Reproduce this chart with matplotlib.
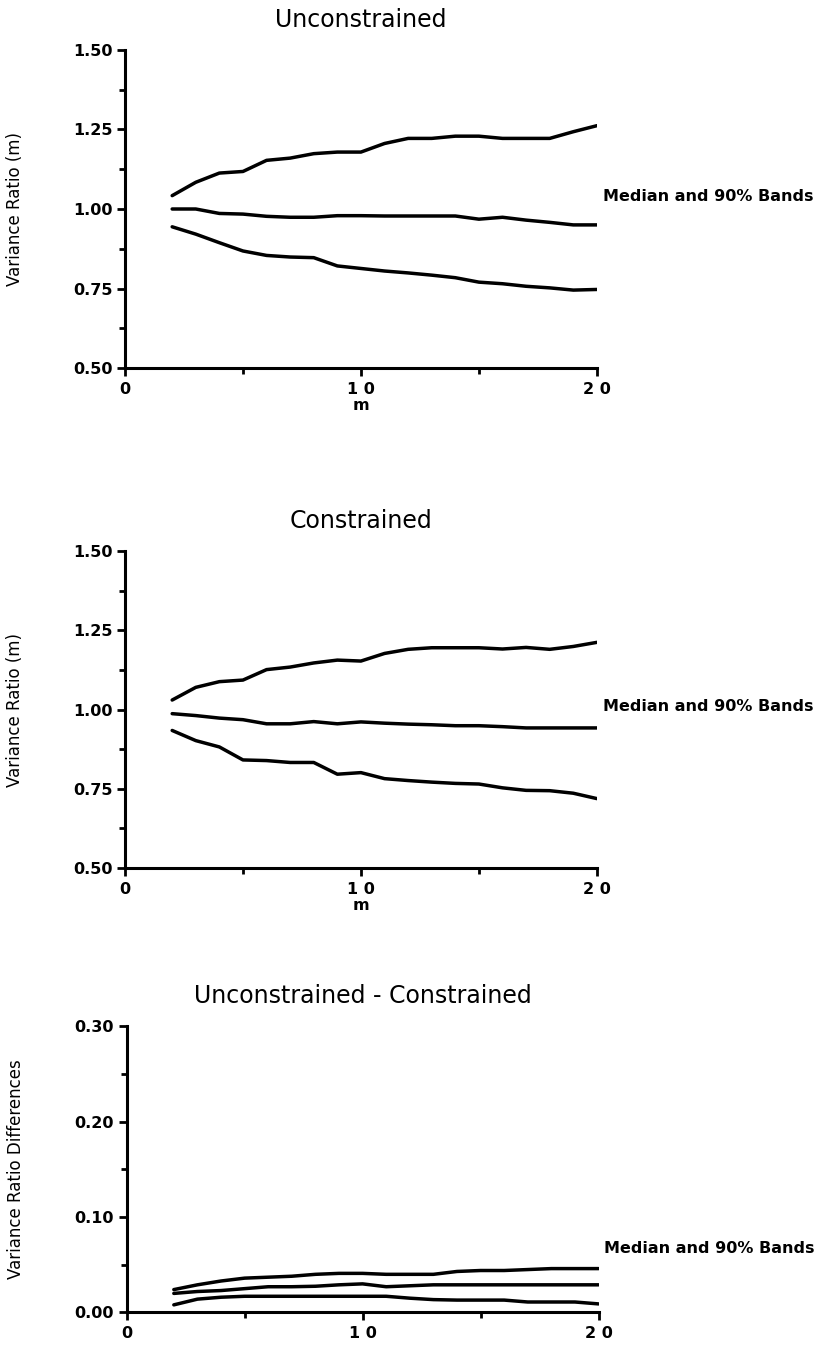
import matplotlib
matplotlib.use("Agg")
import matplotlib.pyplot as plt
from matplotlib.ticker import MultipleLocator

plt.rcParams.update({"font.family": ["DejaVu Sans"]})

m = list(range(2, 21))

# Unconstrained: upper 90% band, median, lower 90% band
unc_upper = [1.042, 1.084, 1.113, 1.118, 1.153, 1.160, 1.174, 1.179, 1.179, 1.206,
             1.222, 1.222, 1.229, 1.229, 1.222, 1.222, 1.222, 1.243, 1.262]
unc_median = [1.000, 1.000, 0.986, 0.984, 0.977, 0.974, 0.974, 0.979, 0.979, 0.978,
              0.978, 0.978, 0.978, 0.968, 0.974, 0.965, 0.958, 0.950, 0.950]
unc_lower = [0.944, 0.921, 0.894, 0.868, 0.854, 0.849, 0.847, 0.821, 0.813, 0.805,
             0.799, 0.792, 0.784, 0.770, 0.765, 0.757, 0.752, 0.745, 0.747]

# Constrained
con_upper = [1.030, 1.070, 1.088, 1.093, 1.126, 1.134, 1.147, 1.156, 1.153, 1.177,
             1.190, 1.195, 1.195, 1.195, 1.191, 1.196, 1.190, 1.199, 1.212]
con_median = [0.987, 0.981, 0.973, 0.968, 0.955, 0.955, 0.962, 0.955, 0.961, 0.957,
              0.954, 0.952, 0.949, 0.949, 0.946, 0.942, 0.942, 0.942, 0.942]
con_lower = [0.934, 0.902, 0.882, 0.841, 0.839, 0.833, 0.833, 0.796, 0.801, 0.782,
             0.776, 0.771, 0.767, 0.765, 0.753, 0.745, 0.744, 0.736, 0.719]

# Unconstrained - Constrained
dif_upper = [0.024, 0.029, 0.033, 0.036, 0.037, 0.038, 0.040, 0.041, 0.041, 0.040,
             0.040, 0.040, 0.043, 0.044, 0.044, 0.045, 0.046, 0.046, 0.046]
dif_median = [0.020, 0.022, 0.023, 0.025, 0.027, 0.027, 0.0275, 0.029, 0.030, 0.027,
              0.028, 0.029, 0.029, 0.029, 0.029, 0.029, 0.029, 0.029, 0.029]
dif_lower = [0.008, 0.014, 0.016, 0.017, 0.017, 0.017, 0.017, 0.017, 0.017, 0.017,
             0.015, 0.0135, 0.013, 0.013, 0.013, 0.011, 0.011, 0.011, 0.009]

x_ticks = [0, 10, 20]
x_ticklabels = ["0", "1 0", "2 0"]


def style_axes(ax, ylim, ystep):
    for side in ("top", "right"):
        ax.spines[side].set_visible(False)
    for side in ("left", "bottom"):
        ax.spines[side].set_linewidth(2.2)
    ax.set_xlim(0, 20)
    ax.set_ylim(*ylim)
    ax.set_xticks(x_ticks)
    ax.set_xticklabels(x_ticklabels, fontsize=11.5, fontweight="bold")
    ax.xaxis.set_minor_locator(MultipleLocator(5))
    ax.yaxis.set_major_locator(MultipleLocator(ystep))
    ax.yaxis.set_minor_locator(MultipleLocator(ystep / 2))
    ticks = [v for v in ax.get_yticks() if ylim[0] - 1e-9 <= v <= ylim[1] + 1e-9]
    ax.set_yticks(ticks)
    ax.set_yticklabels(["{:.2f}".format(v) for v in ticks], fontsize=11.5, fontweight="bold")
    ax.tick_params(which="major", direction="out", length=6, width=2)
    ax.tick_params(which="minor", direction="out", length=4, width=2)
    ax.tick_params(axis="x", pad=4)
    ax.tick_params(axis="y", pad=3)


def draw_panel(rect, title, upper, median, lower, ylim, ystep, ylabel, label_y, xlabel):
    ax = fig.add_axes(rect)
    for series in (upper, median, lower):
        ax.plot(m, series, color="black", lw=2.5, solid_capstyle="round")
    style_axes(ax, ylim, ystep)
    ax.set_title(title, fontsize=17, pad=16.5)
    ax.set_ylabel(ylabel, fontsize=12)
    ax.yaxis.set_label_coords(-0.215, 0.5)
    if xlabel:
        ax.set_xlabel(xlabel, fontsize=11.5, fontweight="bold", labelpad=1)
    ax.text(1.012, label_y, "Median and 90% Bands", transform=ax.get_yaxis_transform(),
            fontsize=11.5, fontweight="bold", ha="left", va="baseline", clip_on=False)
    return ax


fig = plt.figure(figsize=(8.25, 13.51), dpi=100)

draw_panel([0.1515, 0.7276, 0.572, 0.2354], "Unconstrained",
           unc_upper, unc_median, unc_lower, (0.5, 1.5), 0.25,
           "Variance Ratio (m)", 1.025, "m")
draw_panel([0.1515, 0.3575, 0.572, 0.2346], "Constrained",
           con_upper, con_median, con_lower, (0.5, 1.5), 0.25,
           "Variance Ratio (m)", 0.995, "m")
draw_panel([0.1535, 0.0285, 0.572, 0.2119], "Unconstrained - Constrained",
           dif_upper, dif_median, dif_lower, (0.0, 0.3), 0.1,
           "Variance Ratio Differences", 0.062, None)

fig.savefig("out.png", dpi=100)
